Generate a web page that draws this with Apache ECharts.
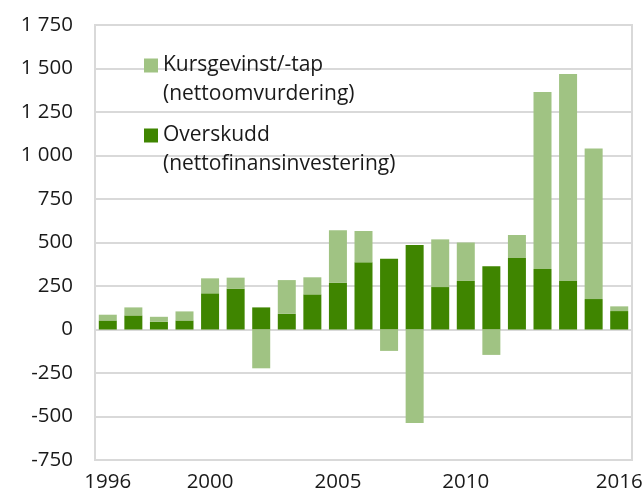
<!DOCTYPE html>
<html>
<head>
<meta charset="utf-8">
<script src="https://cdn.jsdelivr.net/npm/echarts@6/dist/echarts.min.js"></script>
<style>
  html, body { margin: 0; padding: 0; background: #fff; }
  #chart { width: 644px; height: 491px; }
</style>
</head>
<body>
<div id="chart"></div>
<script>
  // år
  const years = ['1996','1997','1998','1999','2000','2001','2002','2003','2004','2005','2006',
                 '2007','2008','2009','2010','2011','2012','2013','2014','2015','2016'];
  // Overskudd (nettofinansinvestering)
  const overskudd = [52, 81, 44, 52, 208, 235, 127, 90, 202, 269, 386,
                     406, 485, 244, 279, 363, 411, 348, 279, 175, 106];
  // Kursgevinst/-tap (nettoomvurdering)
  const kursgevinst = [33, 46, 29, 52, 86, 63, -223, 194, 98, 302, 180,
                       -123, -537, 274, 221, -146, 132, 1017, 1190, 865, 27];
  const shownYears = ['1996', '2000', '2005', '2010', '2016'];

  const font = '"Open Sans", "Noto Sans", sans-serif';
  const nameKurs = 'Kursgevinst/-tap\n(nettoomvurdering)';
  const nameOver = 'Overskudd\n(nettofinansinvestering)';

  // tom første linje, så ikonet står ved første tekstlinje
  const legendBase = {
    orient: 'vertical',
    left: 139,
    itemWidth: 14,
    itemHeight: 14,
    icon: 'rect',
    formatter: name => '\n' + name,
    textStyle: {
      fontFamily: font,
      fontSize: 21,
      color: '#1a1a1a',
      lineHeight: 29
    }
  };

  const option = {
    animation: false,
    textStyle: { fontFamily: font },
    grid: {
      left: 95, right: 12, top: 25, bottom: 31,
      outerBoundsMode: 'none',
      show: true, borderColor: '#d9d9d9', borderWidth: 2
    },
    legend: [
      Object.assign({}, legendBase, { top: 17, data: [nameKurs] }),
      Object.assign({}, legendBase, { top: 87, data: [nameOver] })
    ],
    xAxis: {
      type: 'category',
      data: years,
      axisLine: { show: false },
      axisTick: { show: false },
      axisLabel: {
        interval: (i, v) => shownYears.includes(v),
        fontFamily: font,
        fontSize: 20.5,
        color: '#1a1a1a',
        margin: 12
      }
    },
    yAxis: {
      type: 'value',
      min: -750,
      max: 1750,
      interval: 250,
      axisLine: { show: false },
      axisTick: { show: false },
      splitLine: { lineStyle: { color: '#d9d9d9', width: 2 } },
      axisLabel: {
        fontFamily: font,
        fontSize: 20.5,
        color: '#1a1a1a',
        margin: 22,
        formatter: v => {
          const s = String(Math.abs(v)).replace(/\B(?=(\d{3})+(?!\d))/g, ' ');
          return (v < 0 ? '-' : '') + s;
        }
      }
    },
    series: [
      {
        name: nameOver,
        type: 'bar',
        stack: 'tot',
        barWidth: 18,
        itemStyle: { color: '#3f8500' },
        data: overskudd
      },
      {
        name: nameKurs,
        type: 'bar',
        stack: 'tot',
        barWidth: 18,
        itemStyle: { color: '#a0c383' },
        data: kursgevinst
      }
    ]
  };

  const chart = echarts.init(document.getElementById('chart'));
  chart.setOption(option);
</script>
</body>
</html>
